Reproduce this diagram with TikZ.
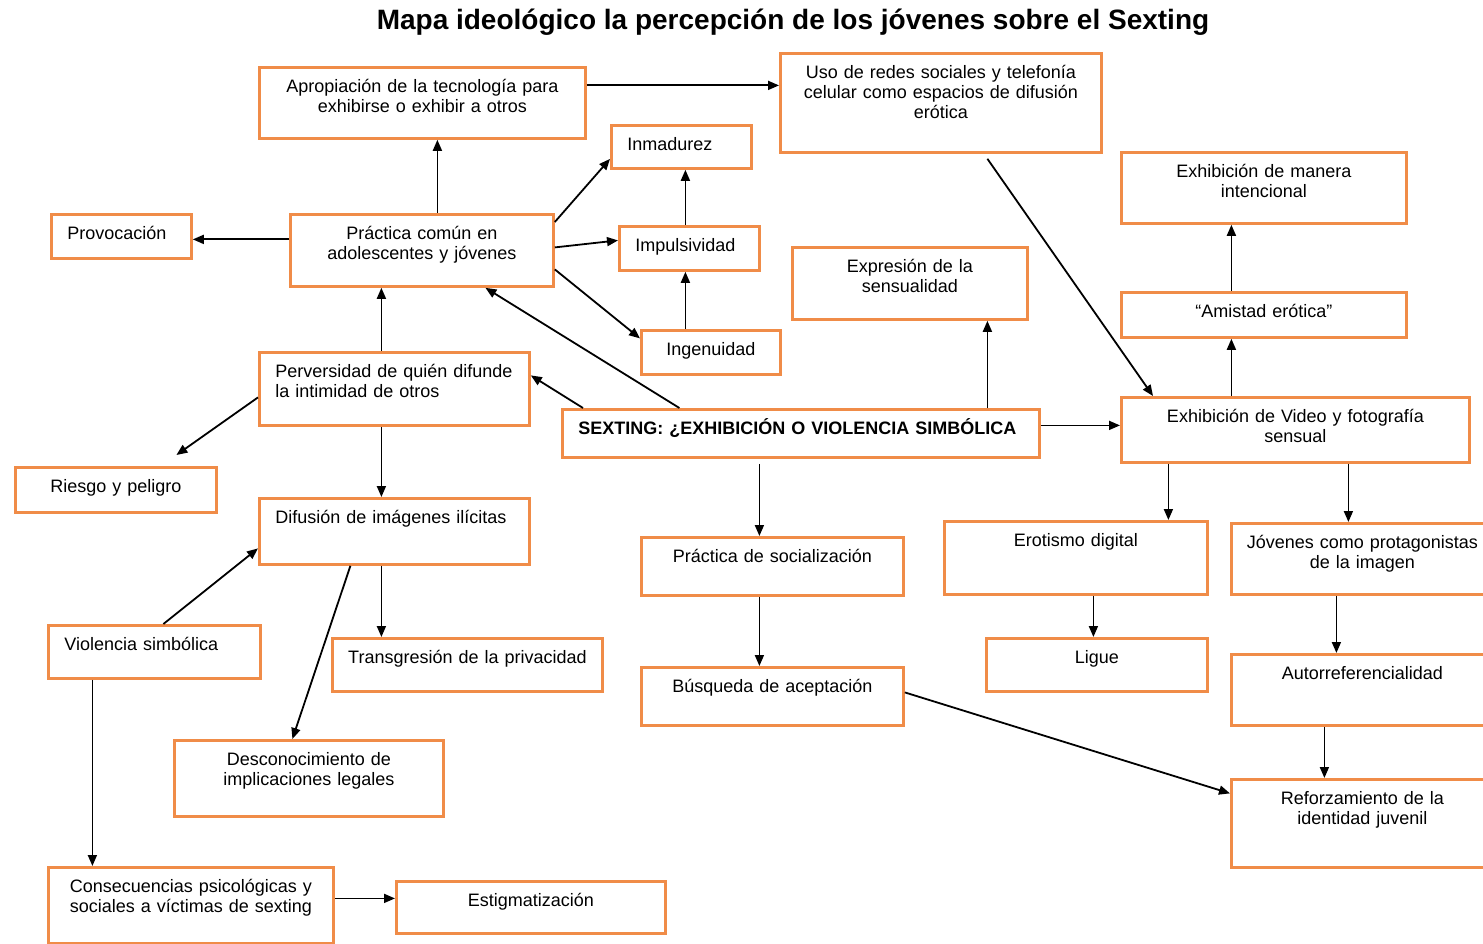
\documentclass[tikz,border=0pt]{standalone}
\usepackage{fontspec}
\setmainfont{Liberation Sans}
\usepackage{tikz}
\usetikzlibrary{arrows.meta}

\definecolor{naranja}{RGB}{240,140,72}

\tikzset{
  caja/.style={draw=naranja, line width=2.8pt, anchor=north west,
    inner xsep=8pt, inner ysep=0pt, text height=25pt, align=center,
    font=\fontsize{18}{20}\selectfont},
  izq/.style={align=left, inner xsep=16pt},
  flecha/.style={-{Triangle[length=11pt,width=9pt]}, line width=1.8pt},
  titulo/.style={font=\fontsize{28}{32}\selectfont\bfseries}
}

\begin{document}
\begin{tikzpicture}[x=1pt, y=-1pt]

\useasboundingbox (0,0) rectangle (1483,944);

% Title
\node[titulo] (titulo) at (793,22) {Mapa ideológico la percepción de los jóvenes sobre el Sexting};

% Left half
\node[caja, text width=310pt, text depth=46pt] (apro) at (258,66) {Apropiación de la tecnología para\\exhibirse o exhibir a otros};
\node[caja, izq, text width=108pt, text depth=18pt] (inmad) at (610,124) {Inmadurez};
\node[caja, izq, text width=108pt, text depth=19pt] (provo) at (50,213) {Provocación};
\node[caja, text width=247pt, text depth=47pt] (prac) at (289,213) {Práctica común en\\adolescentes y jóvenes};
\node[caja, izq, text width=108pt, text depth=19pt] (impul) at (618,225) {Impulsividad};
\node[caja, text width=123pt, text depth=19pt] (ingen) at (640,329) {Ingenuidad};
\node[caja, izq, text width=238pt, text depth=48pt] (perv) at (258,351) {Perversidad de quién difunde\\la intimidad de otros};
\node[caja, text width=185pt, text depth=20pt] (riesgo) at (14,466) {Riesgo y peligro};
\node[caja, izq, text width=238pt, text depth=41pt] (difus) at (258,497) {Difusión de imágenes ilícitas};
\node[caja, izq, text width=180pt, text depth=28pt] (viol) at (47,624) {Violencia simbólica};
\node[caja, text width=254pt, text depth=28pt] (transg) at (331,637) {Transgresión de la privacidad};
\node[caja, text width=253pt, text depth=51pt] (desc) at (173,739) {Desconocimiento de\\implicaciones legales};
\node[caja, text width=269pt, text depth=51pt] (consec) at (47,866) {Consecuencias psicológicas y\\sociales a víctimas de sexting};
\node[caja, text width=253pt, text depth=27pt] (estig) at (395,880) {Estigmatización};

% Centre
\node[caja, izq, text width=445pt, text depth=23pt, font=\fontsize{18}{20}\selectfont\bfseries] (sext) at (561,408) {SEXTING: ¿EXHIBICIÓN O VIOLENCIA SIMBÓLICA};
\node[caja, text width=246pt, text depth=33pt] (social) at (640,536) {Práctica de socialización};
\node[caja, text width=246pt, text depth=33pt] (busq) at (640,666) {Búsqueda de aceptación};
\node[caja, text width=219pt, text depth=47pt] (expre) at (791,246) {Expresión de la\\sensualidad};
\node[caja, text width=305pt, text depth=74pt] (redes) at (779,52) {Uso de redes sociales y telefonía\\celular como espacios de difusión\\erótica};

% Right half
\node[caja, text width=269pt, text depth=46pt] (manera) at (1120,151) {Exhibición de manera\\intencional};
\node[caja, text width=269pt, text depth=20pt] (amistad) at (1120,291) {“Amistad erótica”};
\node[caja, text width=332pt, text depth=40pt] (video) at (1120,396) {Exhibición de Video y fotografía\\sensual};
\node[caja, text width=247pt, text depth=48pt] (erot) at (943,520) {Erotismo digital};
\node[caja, text width=246pt, text depth=46pt] (joven) at (1230,522) {Jóvenes como protagonistas\\de la imagen};
\node[caja, text width=205pt, text depth=28pt] (ligue) at (985,637) {Ligue};
\node[caja, text width=246pt, text depth=46pt] (autor) at (1230,653) {Autorreferencialidad};
\node[caja, text width=246pt, text depth=63pt] (refor) at (1230,778) {Reforzamiento de la\\identidad juvenil};

% Arrows
\draw[flecha] ([yshift=17.5pt]apro.east) -- ([yshift=17.5pt]redes.west);
\draw[flecha] ([xshift=15.5pt]prac.north) -- ([xshift=15pt]apro.south);
\draw[flecha] ([yshift=11pt]prac.west) -- ([yshift=-3pt]provo.east);
\draw[flecha] ([yshift=-9pt]prac.north east) -- ([yshift=-12pt]inmad.west);
\draw[flecha] ([yshift=3pt]prac.east) -- ([yshift=8pt]impul.west);
\draw[flecha] ([yshift=-19pt]prac.east) -- ([yshift=14pt]ingen.west);
\draw[flecha] ([xshift=-4pt]impul.north) -- ([xshift=4pt]inmad.south);
\draw[flecha] ([xshift=-25.5pt]ingen.north) -- ([xshift=-4pt]impul.south);
\draw[flecha] ([xshift=-121.5pt]sext.north) -- ([xshift=63.5pt]prac.south);
\draw[flecha] ([xshift=-13pt]perv.north) -- ([xshift=-40.5pt]prac.south);
\draw[flecha] ([xshift=22pt]sext.north west) -- ([yshift=13.5pt]perv.east);
\draw[flecha] ([yshift=-8.5pt]perv.west) -- ([xshift=60.5pt,yshift=11pt]riesgo.north);
\draw[flecha] ([xshift=-13pt]perv.south) -- ([xshift=-13pt]difus.north);
\draw[flecha] ([xshift=9pt]viol.north) -- ([yshift=-17pt]difus.west);
\draw[flecha] ([xshift=-13pt]difus.south) -- ([xshift=-86pt]transg.north);
\draw[flecha] ([xshift=-44pt]difus.south) -- ([xshift=-16.5pt]desc.north);
\draw[flecha] ([xshift=-62pt]viol.south) -- ([xshift=-98.5pt]consec.north);
\draw[flecha] ([yshift=7pt]consec.east) -- ([yshift=9pt]estig.west);
\draw[flecha] ([xshift=-41.5pt,yshift=-5pt]sext.south) -- ([xshift=-13pt]social.north);
\draw[flecha] ([xshift=-13pt]social.south) -- ([xshift=-13pt]busq.north);
\draw[flecha] ([yshift=4pt]busq.east) -- ([yshift=30pt]refor.west);
\draw[flecha] ([xshift=186.5pt]sext.north) -- ([xshift=77.5pt]expre.south);
\draw[flecha] ([yshift=8pt]sext.east) -- ([yshift=4.5pt]video.west);
\draw[flecha] ([xshift=46.5pt,yshift=-5pt]redes.south) -- ([xshift=33pt]video.north west);
\draw[flecha] ([xshift=-64pt]video.north) -- ([xshift=-32.5pt]amistad.south);
\draw[flecha] ([xshift=-32.5pt]amistad.north) -- ([xshift=-32.5pt]manera.south);
\draw[flecha] ([xshift=-127pt]video.south) -- ([xshift=92.5pt]erot.north);
\draw[flecha] ([xshift=53pt]video.south) -- ([xshift=-14pt]joven.north);
\draw[flecha] ([xshift=17.5pt]erot.south) -- ([xshift=-3.5pt]ligue.north);
\draw[flecha] ([xshift=-26pt]joven.south) -- ([xshift=-26pt]autor.north);
\draw[flecha] ([xshift=-38pt]autor.south) -- ([xshift=-38pt]refor.north);

\end{tikzpicture}
\end{document}
